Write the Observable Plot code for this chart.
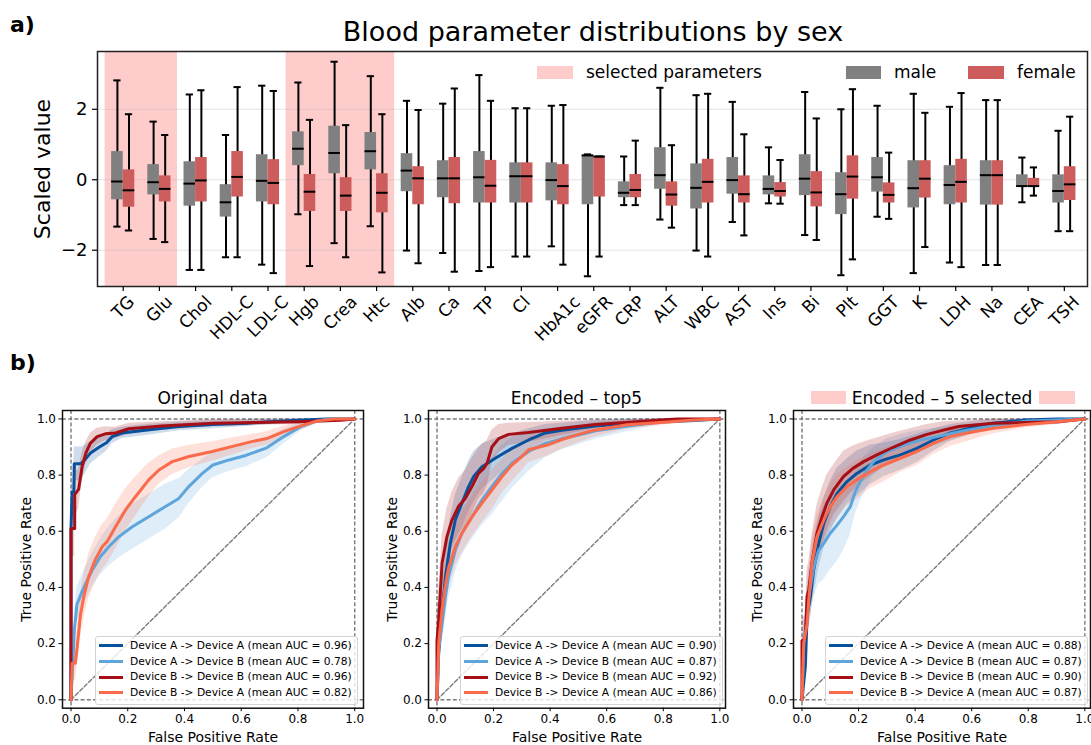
<!DOCTYPE html>
<html><head><meta charset="utf-8">
<script src="https://cdn.jsdelivr.net/npm/d3@7"></script>
<script src="https://cdn.jsdelivr.net/npm/@observablehq/plot@0.6"></script>
<style>
body{margin:0;background:#fff;font-family:"DejaVu Sans",sans-serif;color:#000;}
#root{position:relative;width:1091px;height:745px;overflow:hidden;background:#fff;}
</style></head>
<body><div id="root"></div>
<script>
// ---------------- data: panel a ----------------
const params = ["TG","Glu","Chol","HDL-C","LDL-C","Hgb","Crea","Htc","Alb","Ca","TP","Cl","HbA1c","eGFR","CRP","ALT","WBC","AST","Ins","Bi","Plt","GGT","K","LDH","Na","CEA","TSH"];
const selectedParams = ["TG","Glu","Hgb","Crea","Htc"];
const maleLow  = [-1.33,-1.68,-2.56,-2.20,-2.41,-0.98,-1.80,-1.32,-2.01,-2.08,-2.59,-2.18,-1.89,-2.74,-0.72,-1.13,-2.01,-1.20,-0.67,-1.57,-2.71,-1.05,-2.65,-2.35,-2.42,-0.64,-1.46];
const maleQ1   = [-0.57,-0.43,-0.75,-1.06,-0.63,0.40,0.17,0.28,-0.34,-0.51,-0.66,-0.66,-0.60,-0.71,-0.51,-0.27,-0.83,-0.41,-0.43,-0.45,-0.99,-0.35,-0.80,-0.71,-0.72,-0.18,-0.66];
const maleMed  = [-0.05,-0.07,-0.11,-0.64,-0.03,0.88,0.76,0.81,0.26,0.04,0.07,0.10,-0.01,0.69,-0.37,0.13,-0.23,-0.01,-0.26,0.03,-0.41,0.07,-0.24,-0.15,0.13,-0.18,-0.32];
const maleQ3   = [0.80,0.43,0.51,-0.14,0.71,1.36,1.52,1.34,0.74,0.54,0.80,0.48,0.48,0.70,-0.06,0.91,0.45,0.63,0.11,0.71,0.20,0.63,0.54,0.40,0.54,0.14,0.14];
const maleHigh = [2.82,1.65,2.42,1.27,2.67,2.76,3.35,2.94,2.24,2.16,2.97,2.03,2.10,0.72,0.66,2.61,2.40,2.21,0.92,2.49,2.00,2.10,2.44,2.07,2.26,0.63,1.39];
const femaleLow  = [-1.44,-1.77,-2.56,-2.20,-2.65,-2.45,-2.20,-2.63,-2.37,-2.61,-2.48,-2.18,-2.41,-2.18,-0.72,-1.36,-2.18,-1.58,-0.68,-1.71,-2.26,-1.11,-1.91,-2.48,-2.42,-0.45,-1.46];
const femaleQ1   = [-0.78,-0.63,-0.63,-0.49,-0.71,-0.90,-0.90,-0.94,-0.71,-0.68,-0.66,-0.66,-0.71,-0.49,-0.51,-0.75,-0.66,-0.66,-0.49,-0.77,-0.55,-0.66,-0.52,-0.66,-0.72,-0.18,-0.59];
const femaleMed  = [-0.30,-0.26,-0.02,0.08,-0.09,-0.34,-0.45,-0.37,0.04,0.04,-0.17,0.10,-0.18,0.66,-0.29,-0.42,-0.06,-0.41,-0.32,-0.36,0.09,-0.43,0.03,-0.06,0.13,-0.18,-0.13];
const femaleQ3   = [0.28,0.11,0.63,0.80,0.57,0.15,0.06,0.17,0.37,0.63,0.55,0.48,0.43,0.66,0.15,-0.06,0.58,0.11,-0.08,0.23,0.68,-0.09,0.54,0.58,0.54,0.04,0.37];
const femaleHigh = [1.86,1.27,2.54,2.63,2.52,1.70,1.55,1.86,1.98,2.59,2.24,2.03,2.12,0.66,1.11,0.98,2.44,1.29,0.56,1.74,2.57,0.77,1.90,2.46,2.26,0.35,1.79];
const yTicksA = [-2, 0, 2];

// ---------------- data: panel b (ROC: [fpr, mean tpr, std]) ----------------
const deviceLabels = ["Device A -> Device A","Device A -> Device B","Device B -> Device B","Device B -> Device A"];
const aucOrig = [0.96,0.78,0.96,0.82];
const aucTop5 = [0.90,0.87,0.92,0.86];
const aucSel  = [0.88,0.87,0.90,0.87];
const rocTicks = [0,0.2,0.4,0.6,0.8,1.0];
const chanceLine = [[0,0],[1,1]];

const origAA = [[0,0,0],[0,0.61,0.1],[0.004,0.74,0.1],[0.01,0.74,0.1],[0.012,0.84,0.06],[0.035,0.84,0.06],[0.05,0.856,0.05],[0.07,0.88,0.04],[0.1,0.90,0.035],[0.125,0.915,0.03],[0.145,0.937,0.025],[0.18,0.95,0.02],[0.26,0.96,0.02],[0.38,0.973,0.015],[0.5,0.98,0.015],[0.62,0.985,0.012],[0.7,0.99,0.01],[0.8,0.995,0.008],[0.9,1.0,0],[1,1,0]];
const origAB = [[0,0,0],[0.012,0.25,0.06],[0.021,0.34,0.06],[0.033,0.37,0.06],[0.05,0.41,0.06],[0.074,0.46,0.06],[0.104,0.51,0.065],[0.133,0.545,0.07],[0.168,0.58,0.075],[0.216,0.616,0.08],[0.274,0.652,0.08],[0.333,0.688,0.08],[0.38,0.717,0.07],[0.416,0.76,0.06],[0.463,0.806,0.05],[0.5,0.836,0.045],[0.557,0.854,0.04],[0.616,0.87,0.04],[0.69,0.897,0.035],[0.75,0.937,0.025],[0.81,0.973,0.015],[0.868,0.993,0.008],[0.91,1.0,0],[1,1,0]];
const origBB = [[0,0,0],[0,0.13,0.08],[0,0.61,0.1],[0.013,0.61,0.1],[0.013,0.73,0.08],[0.027,0.75,0.07],[0.033,0.79,0.06],[0.039,0.83,0.05],[0.053,0.88,0.04],[0.068,0.913,0.035],[0.092,0.937,0.03],[0.121,0.947,0.025],[0.157,0.95,0.02],[0.204,0.965,0.02],[0.32,0.975,0.015],[0.5,0.985,0.012],[0.7,0.988,0.01],[0.8,0.99,0.01],[0.95,0.995,0.005],[1,1,0]];
const origBA = [[0,0,0],[0.004,0.13,0.06],[0.015,0.13,0.06],[0.021,0.18,0.07],[0.033,0.30,0.08],[0.045,0.367,0.08],[0.062,0.438,0.08],[0.086,0.50,0.08],[0.11,0.545,0.08],[0.127,0.563,0.08],[0.157,0.616,0.08],[0.192,0.676,0.075],[0.227,0.723,0.07],[0.274,0.783,0.06],[0.31,0.818,0.05],[0.357,0.848,0.045],[0.416,0.866,0.04],[0.498,0.884,0.035],[0.58,0.905,0.03],[0.64,0.92,0.025],[0.69,0.93,0.025],[0.75,0.955,0.02],[0.81,0.975,0.015],[0.868,0.993,0.008],[0.927,1.0,0],[1,1,0]];

const top5AA = [[0,0,0],[0.006,0.165,0.05],[0.018,0.32,0.08],[0.03,0.438,0.08],[0.047,0.557,0.09],[0.065,0.64,0.09],[0.088,0.70,0.09],[0.112,0.76,0.09],[0.13,0.795,0.09],[0.159,0.83,0.08],[0.206,0.86,0.07],[0.265,0.895,0.05],[0.324,0.925,0.04],[0.383,0.95,0.03],[0.442,0.96,0.025],[0.56,0.975,0.02],[0.677,0.985,0.015],[0.79,0.99,0.01],[0.908,0.994,0.008],[1,1,0]];
const top5AB = [[0,0,0],[0.006,0.18,0.05],[0.018,0.27,0.07],[0.03,0.367,0.08],[0.041,0.44,0.08],[0.065,0.533,0.08],[0.088,0.593,0.08],[0.124,0.652,0.08],[0.159,0.711,0.09],[0.194,0.759,0.1],[0.23,0.806,0.1],[0.265,0.842,0.09],[0.324,0.884,0.07],[0.383,0.913,0.05],[0.442,0.93,0.04],[0.5,0.943,0.035],[0.56,0.958,0.03],[0.677,0.975,0.02],[0.79,0.99,0.01],[0.908,0.996,0.005],[1,1,0]];
const top5BB = [[0,0,0],[0,0.21,0.08],[0.006,0.284,0.1],[0.018,0.486,0.1],[0.035,0.58,0.1],[0.053,0.64,0.1],[0.077,0.69,0.1],[0.10,0.717,0.1],[0.124,0.76,0.1],[0.147,0.806,0.09],[0.165,0.824,0.09],[0.177,0.842,0.08],[0.194,0.90,0.06],[0.218,0.93,0.05],[0.253,0.945,0.04],[0.324,0.952,0.035],[0.442,0.967,0.025],[0.56,0.98,0.015],[0.677,0.988,0.01],[0.79,0.996,0.005],[0.85,1.0,0],[1,1,0]];
const top5BA = [[0,0,0],[0.006,0.2,0.05],[0.018,0.32,0.07],[0.03,0.41,0.07],[0.041,0.47,0.07],[0.065,0.545,0.07],[0.088,0.593,0.07],[0.124,0.652,0.07],[0.159,0.70,0.07],[0.194,0.747,0.07],[0.23,0.795,0.06],[0.265,0.836,0.06],[0.3,0.866,0.05],[0.324,0.89,0.045],[0.39,0.907,0.04],[0.437,0.925,0.035],[0.5,0.945,0.03],[0.555,0.96,0.025],[0.673,0.979,0.015],[0.79,0.987,0.01],[0.908,0.996,0.005],[1,1,0]];

const selAA = [[0,0,0],[0.012,0.12,0.06],[0.018,0.30,0.08],[0.03,0.367,0.08],[0.041,0.46,0.09],[0.059,0.557,0.09],[0.077,0.628,0.09],[0.1,0.688,0.09],[0.124,0.735,0.09],[0.159,0.777,0.08],[0.194,0.806,0.08],[0.241,0.836,0.07],[0.289,0.854,0.06],[0.348,0.872,0.055],[0.406,0.895,0.05],[0.465,0.925,0.04],[0.524,0.95,0.03],[0.618,0.973,0.02],[0.677,0.985,0.012],[0.79,0.996,0.005],[0.9,1,0],[1,1,0]];
const selAB = [[0,0,0],[0.006,0.2,0.06],[0.024,0.367,0.1],[0.041,0.47,0.11],[0.059,0.533,0.12],[0.077,0.557,0.13],[0.1,0.593,0.13],[0.124,0.622,0.13],[0.147,0.652,0.12],[0.171,0.688,0.1],[0.188,0.74,0.08],[0.206,0.777,0.07],[0.23,0.818,0.06],[0.253,0.848,0.05],[0.3,0.884,0.045],[0.359,0.907,0.04],[0.418,0.925,0.035],[0.477,0.937,0.03],[0.536,0.95,0.025],[0.583,0.96,0.02],[0.7,0.98,0.01],[0.8,0.993,0.005],[1,1,0]];
const selBB = [[0,0,0],[0,0.21,0.08],[0.012,0.22,0.08],[0.018,0.367,0.1],[0.024,0.39,0.1],[0.035,0.486,0.1],[0.053,0.593,0.1],[0.071,0.652,0.1],[0.088,0.70,0.1],[0.112,0.747,0.09],[0.147,0.795,0.09],[0.18,0.824,0.08],[0.218,0.848,0.07],[0.265,0.872,0.06],[0.324,0.90,0.05],[0.383,0.925,0.04],[0.442,0.945,0.035],[0.5,0.96,0.03],[0.555,0.973,0.02],[0.677,0.985,0.015],[0.79,0.987,0.012],[0.908,0.99,0.01],[1,1,0]];
const selBA = [[0,0,0],[0.006,0.2,0.06],[0.018,0.27,0.08],[0.024,0.355,0.08],[0.035,0.486,0.08],[0.053,0.58,0.08],[0.077,0.64,0.08],[0.1,0.688,0.08],[0.124,0.723,0.08],[0.159,0.759,0.07],[0.194,0.783,0.07],[0.241,0.812,0.06],[0.289,0.836,0.06],[0.348,0.86,0.05],[0.406,0.884,0.05],[0.465,0.913,0.04],[0.524,0.937,0.035],[0.583,0.95,0.03],[0.677,0.967,0.02],[0.79,0.98,0.012],[0.9,0.99,0.008],[1,1,0]];

const curveColors = ["#08519c","#5da5da","#a50f15","#fb6a4a"];

// ---------------- helpers ----------------
const root = document.getElementById("root");
const FONT = "'DejaVu Sans', sans-serif";
function addDiv(text, style) {
  const d = document.createElement("div");
  if (text != null) d.textContent = text;
  Object.assign(d.style, {position: "absolute", whiteSpace: "nowrap"}, style);
  root.appendChild(d);
  return d;
}
function place(svg, left, top) {
  svg.style.position = "absolute";
  svg.style.left = left + "px";
  svg.style.top = top + "px";
  root.appendChild(svg);
}
const minusFmt = d => d < 0 ? "\u2212" + Math.abs(d) : String(d);

// ---------------- panel a ----------------
const idx = d3.range(params.length);
const yDomA = [-3.03, 3.64];
const topW = 1091, topH = 345, mTa = 51, mBa = 59, mLa = 97, mRa = 4;
const pxPerYa = (topH - mTa - mBa) / (yDomA[1] - yDomA[0]);
const cnv = document.createElement("canvas").getContext("2d");
cnv.font = "17px 'DejaVu Sans'";
const labelYa = idx.map(i => {
  const w = cnv.measureText(params[i]).width;
  const off = 8 + (w + 13) * Math.SQRT1_2 / 2;
  return yDomA[0] - off / pxPerYa;
});
const selIdx = selectedParams.map(p => params.indexOf(p)).sort((a, b) => a - b);
const spans = [];
for (const i of selIdx) {
  const last = spans[spans.length - 1];
  if (last && last[1] === i - 1) last[1] = i; else spans.push([i, i]);
}
const sexes = [
  {off: -0.16, fill: "#808080", low: maleLow, q1: maleQ1, med: maleMed, q3: maleQ3, high: maleHigh},
  {off: 0.16, fill: "#cd5c5c", low: femaleLow, q1: femaleQ1, med: femaleMed, q3: femaleQ3, high: femaleHigh}
];
const halfBox = 0.16, halfCap = 0.1;

const chartA = Plot.plot({
  width: topW, height: topH,
  marginTop: mTa, marginBottom: mBa, marginLeft: mLa, marginRight: mRa,
  style: {fontFamily: FONT, fontSize: "17px", overflow: "visible", background: "transparent", color: "#000"},
  x: {type: "linear", domain: [-0.71, 26.64]},
  y: {domain: yDomA},
  marks: [
    Plot.rect(spans, {x1: s => s[0] - 0.5, x2: s => s[1] + 0.5, fill: "#ffcccc"}),
    Plot.gridY(yTicksA, {stroke: "#b0b0b0", strokeOpacity: 0.35, strokeWidth: 1}),
    ...sexes.flatMap(s => [
      Plot.ruleX(idx, {x: i => i + s.off, y1: i => s.low[i], y2: i => s.high[i], stroke: "#000", strokeWidth: 2}),
      Plot.rect(idx, {x1: i => i + s.off - halfBox, x2: i => i + s.off + halfBox, y1: i => s.q1[i], y2: i => s.q3[i], fill: s.fill}),
      Plot.ruleY(idx, {x1: i => i + s.off - halfBox, x2: i => i + s.off + halfBox, y: i => s.med[i], stroke: "#000", strokeWidth: 2}),
      Plot.ruleY(idx, {x1: i => i + s.off - halfCap, x2: i => i + s.off + halfCap, y: i => s.low[i], stroke: "#000", strokeWidth: 2}),
      Plot.ruleY(idx, {x1: i => i + s.off - halfCap, x2: i => i + s.off + halfCap, y: i => s.high[i], stroke: "#000", strokeWidth: 2})
    ]),
    Plot.frame({stroke: "#222", strokeWidth: 1.5}),
    Plot.axisY({ticks: yTicksA, tickSize: 5, tickPadding: 5, fontSize: 18, tickFormat: minusFmt, label: null, strokeWidth: 1.2}),
    Plot.axisX({ticks: idx, tickSize: 5, tickFormat: () => "", label: null, strokeWidth: 1.2}),
    Plot.text(idx, {x: i => i, y: i => labelYa[i], text: i => params[i], rotate: -45, fontSize: 17, textAnchor: "middle", lineAnchor: "middle", fill: "#000"}),
    Plot.text(["Scaled value"], {frameAnchor: "left", text: d => d, dx: -55, rotate: -90, fontSize: 22, textAnchor: "middle", lineAnchor: "middle", fill: "#000"})
  ]
});
place(chartA, 0, 0);

addDiv("a)", {left: "10px", top: "12px", fontSize: "22px", fontWeight: "bold", lineHeight: "26px"});
addDiv("Blood parameter distributions by sex", {left: "593px", top: "16px", fontSize: "27px", lineHeight: "32px", transform: "translateX(-50%)"});
// legend a
addDiv(null, {left: "537px", top: "66px", width: "36px", height: "13px", background: "#ffcccc"});
addDiv("selected parameters", {left: "586px", top: "62px", fontSize: "17px", lineHeight: "20px"});
addDiv(null, {left: "846px", top: "66px", width: "35px", height: "13px", background: "#808080"});
addDiv("male", {left: "894px", top: "62px", fontSize: "17px", lineHeight: "20px"});
addDiv(null, {left: "968px", top: "66px", width: "36px", height: "13px", background: "#cd5c5c"});
addDiv("female", {left: "1017px", top: "62px", fontSize: "17px", lineHeight: "20px"});

// ---------------- panel b ----------------
addDiv("b)", {left: "10px", top: "350px", fontSize: "22px", fontWeight: "bold", lineHeight: "26px"});

const dash = {stroke: "#7a7a7a", strokeDasharray: "4,2.2", strokeWidth: 1.4};
function rocChart(curves, xMax, mL, mR) {
  const W = 365, H = 365;
  const marks = [
    Plot.ruleX([0, 1], dash),
    Plot.ruleY([0, 1], dash),
    Plot.line(chanceLine, {x: d => d[0], y: d => d[1], ...dash})
  ];
  curves.forEach((c, k) => {
    marks.push(Plot.areaY(c, {x: d => d[0], y1: d => Math.max(0, d[1] - d[2]), y2: d => Math.min(1, d[1] + d[2]), fill: curveColors[k], fillOpacity: 0.2}));
  });
  curves.forEach((c, k) => {
    marks.push(Plot.line(c, {x: d => d[0], y: d => d[1], stroke: curveColors[k], strokeWidth: 3}));
  });
  marks.push(
    Plot.frame({stroke: "#111", strokeWidth: 1.5}),
    Plot.axisX({ticks: rocTicks, tickSize: 3.5, tickPadding: 3, fontSize: 12, tickFormat: d3.format(".1f"), label: null}),
    Plot.axisY({ticks: rocTicks, tickSize: 3.5, tickPadding: 3, fontSize: 12, tickFormat: d3.format(".1f"), label: null}),
    Plot.text(["False Positive Rate"], {frameAnchor: "bottom", text: d => d, dy: 29, fontSize: 14, textAnchor: "middle", lineAnchor: "middle", fill: "#000"}),
    Plot.text(["True Positive Rate"], {frameAnchor: "left", text: d => d, dx: -36, rotate: -90, fontSize: 14, textAnchor: "middle", lineAnchor: "middle", fill: "#000"})
  );
  return Plot.plot({
    width: W, height: H,
    marginTop: 30, marginBottom: 37.3, marginLeft: mL, marginRight: mR,
    style: {fontFamily: FONT, fontSize: "12px", overflow: "visible", background: "transparent", color: "#000"},
    x: {domain: [-0.03, xMax]},
    y: {domain: [-0.03, 1.03]},
    marks
  });
}

function rocLegend(left, aucs) {
  const box = addDiv(null, {left: left + "px", top: "636px", width: "261px", height: "66px",
    background: "rgba(255,255,255,0.8)", border: "1px solid #d4d4d4", borderRadius: "3px", paddingTop: "1px"});
  deviceLabels.forEach((lab, k) => {
    const row = document.createElement("div");
    Object.assign(row.style, {display: "flex", alignItems: "center", height: "15.7px", whiteSpace: "nowrap"});
    const sw = document.createElement("div");
    Object.assign(sw.style, {width: "24px", height: "3px", background: curveColors[k], marginLeft: "3px", marginRight: "7px", flex: "none"});
    const tx = document.createElement("span");
    tx.textContent = `${lab} (mean AUC = ${aucs[k].toFixed(2)})`;
    Object.assign(tx.style, {fontSize: "10.7px", lineHeight: "15.7px", color: "#000"});
    row.appendChild(sw); row.appendChild(tx);
    box.appendChild(row);
  });
}

place(rocChart([origAA, origAB, origBB, origBA], 1.031, 62, 2), 0, 380);
place(rocChart([top5AA, top5AB, top5BB, top5BA], 1.02, 63, 5), 365, 380);
place(rocChart([selAA, selAB, selBB, selBA], 1.02, 63, 5), 730, 380);

addDiv("Original data", {left: "212.5px", top: "388px", fontSize: "17px", lineHeight: "20px", transform: "translateX(-50%)"});
addDiv("Encoded \u2013 top5", {left: "576.5px", top: "388px", fontSize: "17px", lineHeight: "20px", transform: "translateX(-50%)"});
addDiv(null, {left: "811px", top: "391px", width: "35px", height: "13px", background: "#ffcccc"});
addDiv("Encoded \u2013 5 selected", {left: "942px", top: "388px", fontSize: "17px", lineHeight: "20px", transform: "translateX(-50%)"});
addDiv(null, {left: "1039px", top: "391px", width: "36px", height: "13px", background: "#ffcccc"});

rocLegend(95, aucOrig);
rocLegend(460, aucTop5);
rocLegend(825, aucSel);
</script>
</body></html>
